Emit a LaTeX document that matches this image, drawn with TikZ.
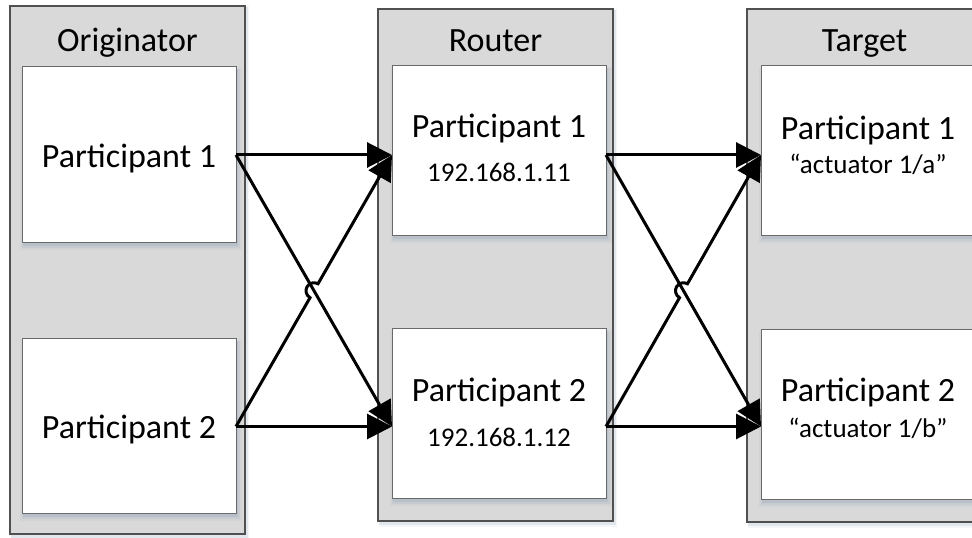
\documentclass[tikz,border=0pt]{standalone}
\usepackage{fontspec}
\setmainfont{Carlito}
\usetikzlibrary{arrows.meta,calc,shadows}

\definecolor{panelgray}{HTML}{D9D9D9}
\definecolor{panelline}{HTML}{505050}
\definecolor{boxline}{HTML}{6A6A6A}
\definecolor{shadowblue}{HTML}{8FA3BA}

\begin{document}
\begin{tikzpicture}[x=1pt,y=1pt,
  softshadow/.style={
    general shadow={shadow xshift=2pt, shadow yshift=-4pt, shadow scale=1.035, fill=shadowblue, opacity=0.10},
    general shadow={shadow xshift=2pt, shadow yshift=-3.5pt, shadow scale=1.02, fill=shadowblue, opacity=0.15},
    general shadow={shadow xshift=1.5pt, shadow yshift=-2.5pt, shadow scale=1.006, fill=shadowblue, opacity=0.25}},
  panelshadow/.style={
    general shadow={shadow xshift=2.5pt, shadow yshift=-3pt, shadow scale=1.01, fill=shadowblue, opacity=0.10},
    general shadow={shadow xshift=2pt, shadow yshift=-2.5pt, shadow scale=1.005, fill=shadowblue, opacity=0.18}},
  panel/.style={rectangle, draw=panelline, line width=1.2pt, fill=panelgray,
    inner sep=0pt, outer sep=0pt, minimum width=235pt, panelshadow},
  pbox/.style={rectangle, draw=boxline, line width=1pt, fill=white,
    inner sep=0pt, outer sep=0pt, minimum width=214pt, softshadow},
  title/.style={inner sep=0pt, anchor=base, font=\fontsize{34}{40}\selectfont},
  bigtxt/.style={inner sep=0pt, anchor=base, font=\fontsize{34}{40}\selectfont},
  smalltxt/.style={inner sep=0pt, anchor=base, font=\fontsize{27}{32}\selectfont},
  conn/.style={draw=black, line width=3pt, -{Triangle[length=25pt,width=25pt]}},
]
\useasboundingbox (0,0) rectangle (972,538);
\clip (0,0) rectangle (972,538);

% swim lanes
\node[panel, minimum height=528pt] (po) at (127.5,268) {};
\node[panel, minimum height=512pt] (pr) at (495.5,273) {};
\node[panel, minimum height=513pt] (pt) at (864.5,272.5) {};

\node[title] (tpo) at (127.5,486) {Originator};
\node[title] (tpr) at (495.5,486) {Router};
\node[title] (tpt) at (864.5,486) {Target};

% participants
\node[pbox, minimum height=176pt] (o1) at (129,383) {};
\node[pbox, minimum height=175pt] (o2) at (129,111.5) {};
\node[pbox, minimum height=170pt] (r1) at (499,387) {};
\node[pbox, minimum height=170pt] (r2) at (499,124) {};
\node[pbox, minimum height=170pt] (t1) at (868,387) {};
\node[pbox, minimum height=170pt] (t2) at (868,123) {};

\node[bigtxt] (o1l) at (129,370) {Participant 1};
\node[bigtxt] (o2l) at (129,99) {Participant 2};

\node[bigtxt] (r1l) at (499,400) {Participant 1};
\node[smalltxt] (r1s) at (499,356) {192.168.1.11};
\node[bigtxt] (r2l) at (499,136) {Participant 2};
\node[smalltxt] (r2s) at (499,91) {192.168.1.12};

\node[bigtxt] (t1l) at (868,398) {Participant 1};
\node[smalltxt] (t1s) at (868,364) {“actuator 1/a”};
\node[bigtxt] (t2l) at (868,136) {Participant 2};
\node[smalltxt] (t2s) at (868,100) {“actuator 1/b”};

% connection points
\coordinate (r1in)  at (r1.west |- o1.east);
\coordinate (r2in)  at (r2.west |- o2.east);
\coordinate (r1out) at (r1.east |- o1.east);
\coordinate (r2out) at (r2.east |- o2.east);
\coordinate (t1in)  at (t1.west |- o1.east);
\coordinate (t2in)  at (t2.west |- o2.east);
\coordinate (x1) at ($(o1.east)!0.5!(r2in)$);
\coordinate (x2) at ($(r1out)!0.5!(t2in)$);

% originator -> router
\draw[conn] (o1.east) -- (r1in);
\draw[conn] (o2.east) -- (r2in);
\draw[conn] (o1.east) -- (r2in);
\draw[conn] let \p1=($(r1in)-(o2.east)$), \n1={atan2(\y1,\x1)} in
  (o2.east) -- ($(x1)!8pt!(o2.east)$)
  arc[start angle=\n1+180, end angle=\n1, radius=8pt] -- (r1in);

% router -> target
\draw[conn] (r1out) -- (t1in);
\draw[conn] (r2out) -- (t2in);
\draw[conn] (r1out) -- (t2in);
\draw[conn] let \p1=($(t1in)-(r2out)$), \n1={atan2(\y1,\x1)} in
  (r2out) -- ($(x2)!8pt!(r2out)$)
  arc[start angle=\n1+180, end angle=\n1, radius=8pt] -- (t1in);
\end{tikzpicture}
\end{document}
